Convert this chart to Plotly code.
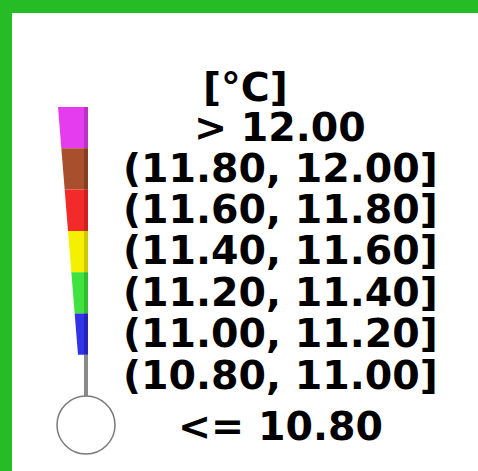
import plotly.graph_objects as go

# Legend content: temperature classes (top = warmest)
unit_label = "[°C]"
class_labels = [
    "> 12.00",
    "(11.80, 12.00]",
    "(11.60, 11.80]",
    "(11.40, 11.60]",
    "(11.20, 11.40]",
    "(11.00, 11.20]",
    "(10.80, 11.00]",
    "<= 10.80",
]
class_colors = ["#E63CF0", "#A8502E", "#F22A2A", "#F4F000", "#3FE23F", "#3232E6"]
shade_colors = ["#9A2AA0", "#6A3018", "#B01818", "#B0AA00", "#20A020", "#1A1A9A"]
tube_color = "#8A8A8A"
frame_color = "#25BC25"

W, H = 478, 471
fig = go.Figure()

# Thermometer geometry (pixel layout)
top_y, seg_h = 107, 41.3
right_x = 88
left_top, left_bot = 58, 78
n_seg = len(class_colors)
bottom_y = top_y + seg_h * n_seg


def left_at(y):
    return left_top + (left_bot - left_top) * (y - top_y) / (bottom_y - top_y)


shapes = []
for i, (c, sc) in enumerate(zip(class_colors, shade_colors)):
    y0 = top_y + i * seg_h
    y1 = y0 + seg_h
    l0, l1 = left_at(y0), left_at(y1)
    path = f"M{l0},{y0} L{right_x},{y0} L{right_x},{y1} L{l1},{y1} Z"
    shapes.append(dict(type="path", path=path, fillcolor=c, line=dict(width=0), layer="above"))
    sp = f"M{right_x-4},{y0} L{right_x},{y0} L{right_x},{y1} L{right_x-4},{y1} Z"
    shapes.append(dict(type="path", path=sp, fillcolor=sc, line=dict(width=0), opacity=0.55, layer="above"))

# Gray stem down to the bulb
bulb_cx, bulb_cy, bulb_r = 86, 425, 29
shapes.append(dict(type="rect", x0=84, x1=88, y0=bottom_y, y1=bulb_cy - bulb_r + 1,
                   fillcolor=tube_color, line=dict(width=0), layer="above"))
# Bulb
shapes.append(dict(type="circle", x0=bulb_cx - bulb_r, x1=bulb_cx + bulb_r,
                   y0=bulb_cy - bulb_r, y1=bulb_cy + bulb_r,
                   fillcolor="white", line=dict(color="#7A7A7A", width=1.5), layer="above"))

# Green frame along the top and left edges
shapes.append(dict(type="rect", x0=0, x1=W, y0=0, y1=13, fillcolor=frame_color, line=dict(width=0)))
shapes.append(dict(type="rect", x0=0, x1=12, y0=0, y1=H, fillcolor=frame_color, line=dict(width=0)))

font = dict(family="DejaVu Sans", size=39.5, color="black", weight="bold")
box_h = 40  # rows are packed tighter than the default line box
annotations = [dict(x=245, y=87, text=unit_label, showarrow=False, xanchor="center",
                    yanchor="middle", font=font, height=box_h)]
row_y = [127, 168, 209, 250, 292, 333, 375, 426]
for lab, y in zip(class_labels, row_y):
    annotations.append(dict(x=280, y=y, text=lab, showarrow=False, xanchor="center",
                            yanchor="middle", font=font, height=box_h))

fig.update_layout(
    width=W, height=H,
    margin=dict(l=0, r=0, t=0, b=0),
    paper_bgcolor="white", plot_bgcolor="white",
    xaxis=dict(range=[0, W], visible=False, fixedrange=True),
    yaxis=dict(range=[H, 0], visible=False, fixedrange=True),
    shapes=shapes, annotations=annotations, showlegend=False,
)
fig.write_html("out.html", config={"displayModeBar": False})
